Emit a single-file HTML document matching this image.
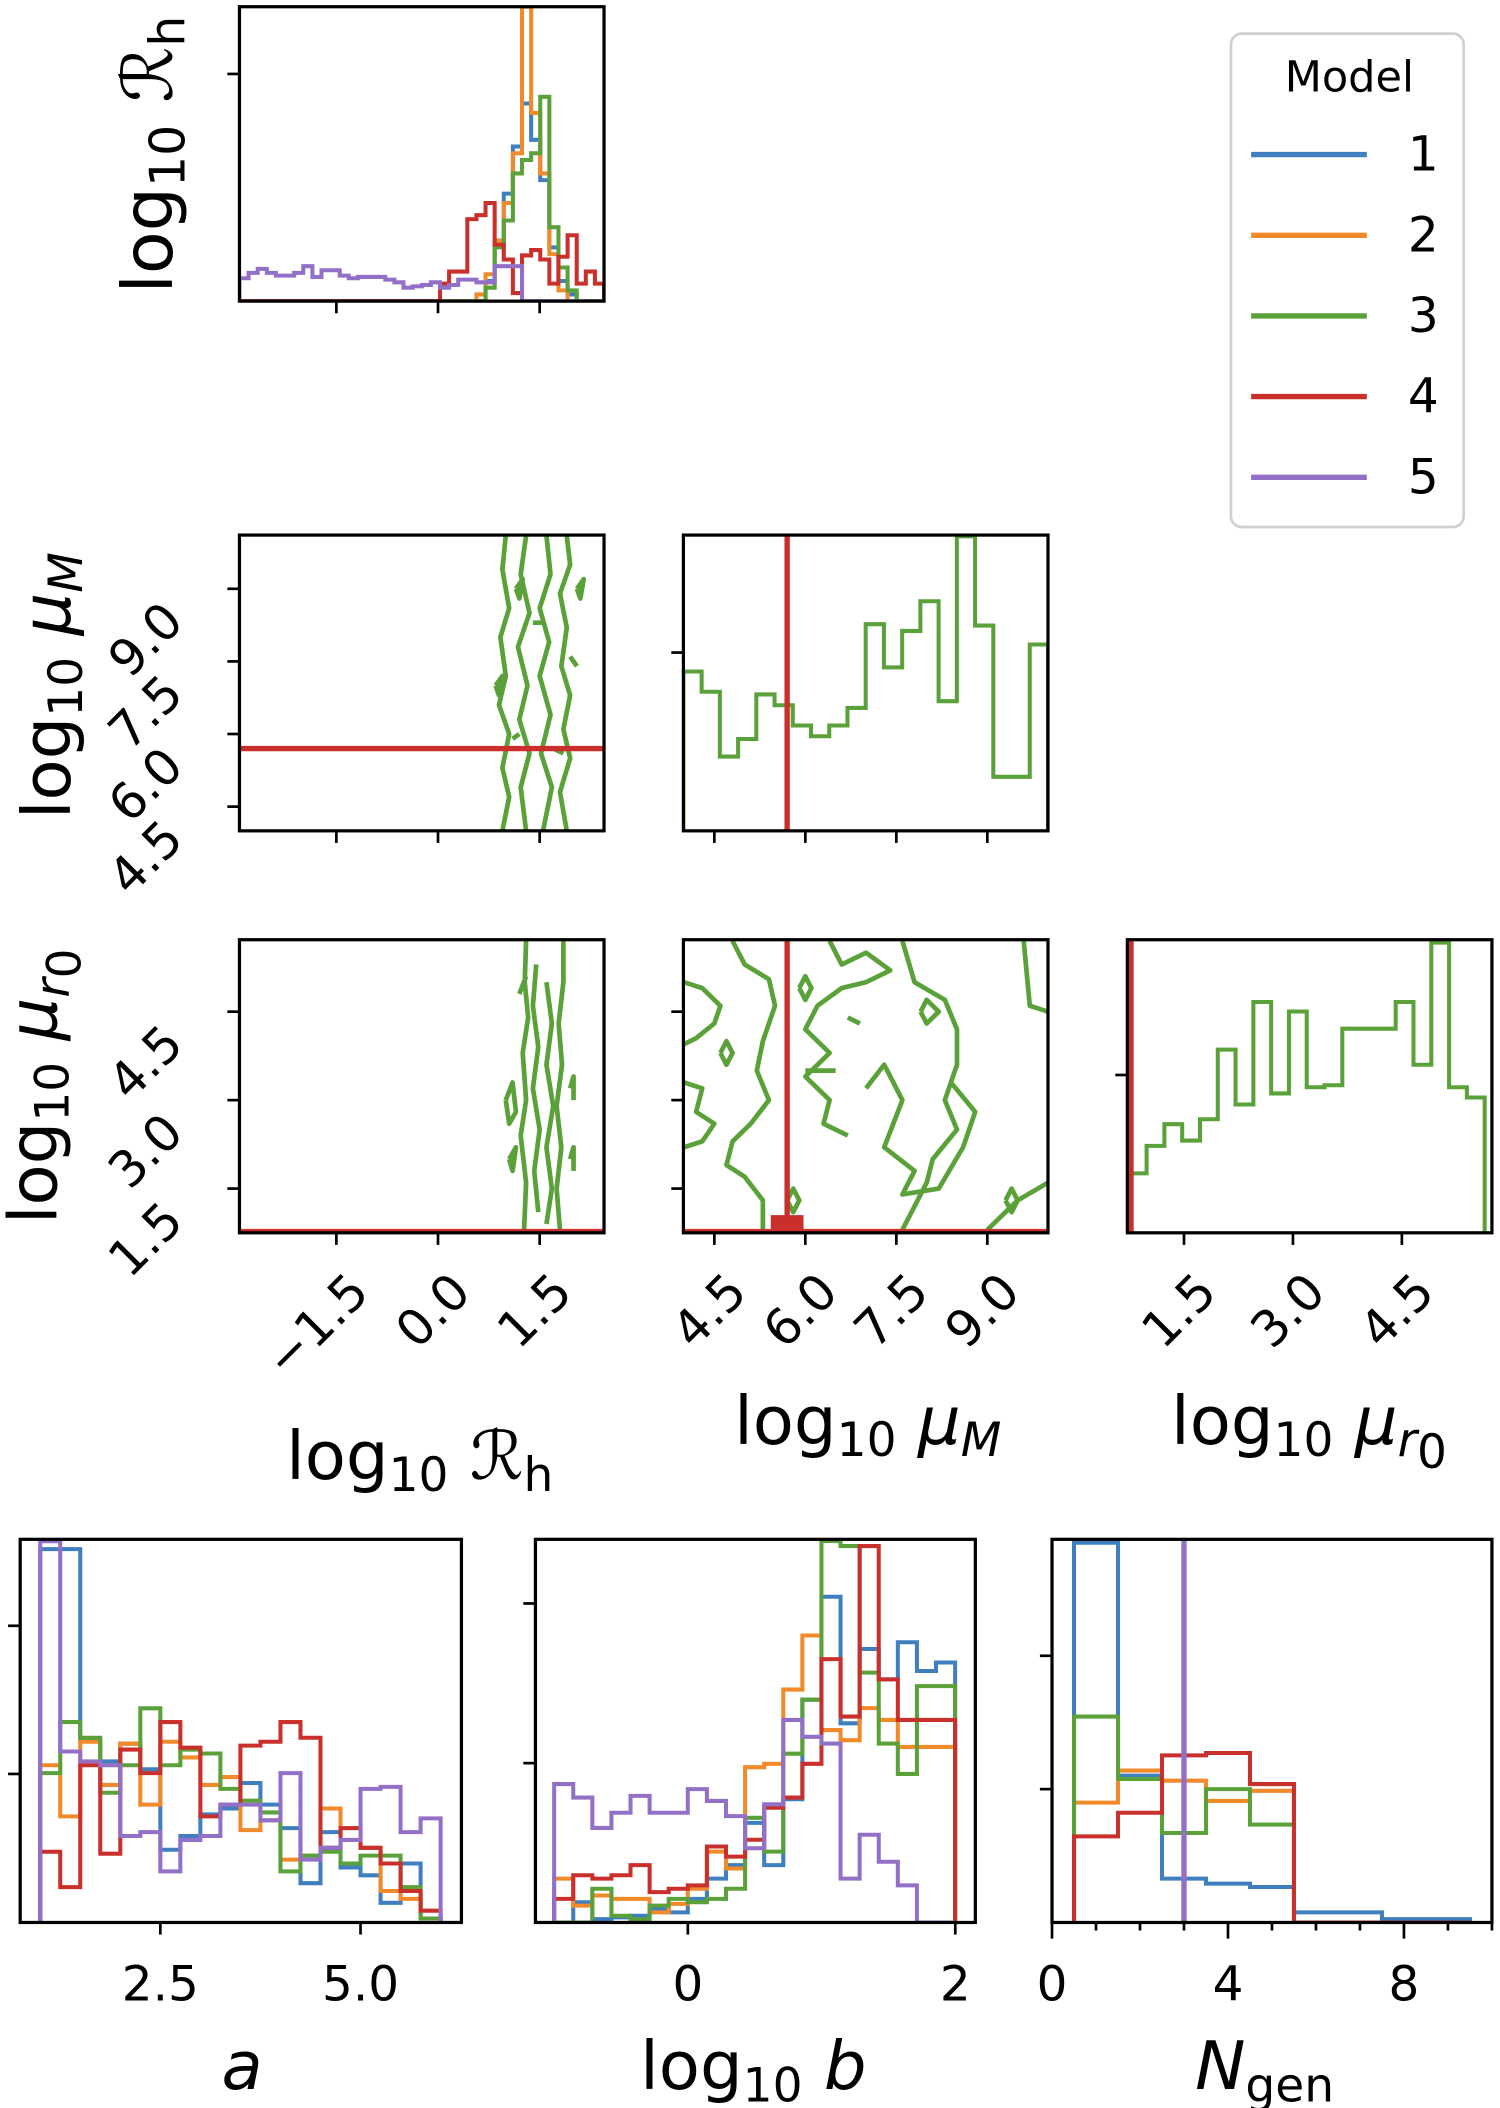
<!DOCTYPE html>
<html><head><meta charset="utf-8"><style>
html,body{margin:0;padding:0;background:#fff}
svg{display:block}
text{font-family:"DejaVu Sans","Liberation Sans",sans-serif;fill:#000}
</style></head><body>
<svg id="fig" width="1500" height="2108" viewBox="0 0 1115 1568" preserveAspectRatio="none" xmlns="http://www.w3.org/2000/svg"></svg>
<script>
const colors=["#3f7fc0","#f28a2a","#5aa13a","#c9302c","#9370c8"];
const modelLabels=["1","2","3","4","5"];
// Row1: log10 Rh histograms (40 bins from -2.93 width 0.1345)
const rhBlue=[0,0,0,0,0,0,0,0,0,0,0,0,0,0,0,0,0,0,0,0,0,0,0,0,0,0,0,15,45,80,115,147,120,90,40,15,5,0,0,0];
const rhOrange=[0,0,0,0,0,0,0,0,0,0,0,0,0,0,0,0,0,0,0,0,0,0,0,0,0,0,5,20,45,73,110,219,140,95,35,8,0,0,0,0];
const rhGreen=[0,0,0,0,0,0,0,0,0,0,0,0,0,0,0,0,0,0,0,0,0,0,0,0,0,0,0,10,40,60,95,105,110,152,55,25,8,0,0,0];
const rhRed=[0,0,0,0,0,0,0,0,0,0,0,0,0,0,0,0,0,0,0,0,0,0,13,22,22,61,64,73,42,31,6,34,38,31,13,33,49,13,22,13];
const rhPurple=[17,21,24,21,19,19,21,26,18,23,23,19,17,18,18,18,16,14,10,11,12,14,10,12,16,16,14,14,26,26,26,0,0,0,0,0,0,0,0,0];
// Row2: log10 muM histogram (model 3)
const muMGreen=[118,103,55,68,101,93,78,70,78,91,153,121,148,170,96,218,152,40,40,138];
const muMTrue=5.7;
// Row3: log10 mu_r0 histogram (model 3)
const mur0Green=[145,212,265,225,277,447,313,563,340,540,355,360,498,498,498,563,410,708,355,330];
const mur0True=0.77;
// Row4: a histograms
const aBlue=[950,950,465,410,455,390,185,220,275,290,355,300,240,100,230,140,120,50,150,10];
const aOrange=[400,270,460,350,455,300,460,420,350,370,235,260,160,170,290,240,190,80,60,10];
const aGreen=[380,510,470,330,400,545,400,440,430,340,310,280,130,170,180,150,170,170,90,10];
const aRed=[180,90,400,175,440,380,510,445,270,300,450,460,510,470,190,240,190,150,80,30];
const aPurple=[970,435,410,400,220,230,130,210,220,300,300,260,380,160,190,210,340,345,230,265];
// log10 b histograms
const bBlue=[0,60,10,15,20,40,30,70,130,170,295,170,365,660,965,590,810,720,830,745,770];
const bOrange=[130,50,80,70,70,30,55,100,210,160,460,470,690,850,570,540,635,600,520,520,520];
const bGreen=[0,0,100,20,10,50,70,60,70,100,310,210,500,660,1130,1115,740,530,440,700,700];
const bRed=[70,140,130,140,170,90,100,110,225,195,245,340,370,470,780,610,1115,720,600,600,600];
const bPurple=[410,370,280,325,375,325,325,395,360,315,220,350,600,550,530,130,260,180,110,0,0];
// N_gen histograms
const nBlue=[1125,435,130,115,105,30,30,10,10];
const nOrange=[355,450,420,360,390,0,0,0,0];
const nGreen=[610,425,265,395,290,0,0,0,0];
const nRed=[255,325,495,502,410,0,0,0,0];
const nTrue=3;
// contour polylines (data units)
const contRhMu=[
 [[1.0,10.1],[0.95,9.4],[1.05,8.6],[0.92,8.0],[1.0,7.2],[0.9,6.6],[1.05,6.0],[0.95,5.3],[1.05,4.7],[0.95,4.0]],
 [[1.9,10.1],[1.95,9.5],[1.8,8.9],[1.9,8.2],[1.82,7.4],[1.95,6.8],[1.85,6.1],[1.95,5.5],[1.8,4.8],[1.9,4.0]],
 [[1.3,10.1],[1.22,9.3],[1.35,8.5],[1.18,7.8],[1.32,7.0],[1.2,6.3],[1.35,5.6],[1.22,4.9],[1.3,4.0]],
 [[1.6,10.1],[1.66,9.3],[1.5,8.6],[1.64,7.9],[1.5,7.2],[1.66,6.4],[1.52,5.6],[1.68,4.9],[1.55,4.0]],
 [[1.15,9.0],[1.25,9.2],[1.2,8.8],[1.15,9.0]],[[1.4,8.3],[1.55,8.3]],[[2.05,9.0],[2.15,9.2],[2.1,8.8],[2.05,9.0]],
 [[0.85,7.0],[0.95,7.2],[0.9,6.8],[0.85,7.0]],[[1.95,7.6],[2.05,7.4]],[[1.1,5.9],[1.2,6.0]],[[1.7,5.7],[1.85,5.6]]
];
const contRhR0=[
 [[1.3,5.7],[1.28,5.0],[1.33,4.4],[1.25,3.8],[1.3,3.0],[1.22,2.4],[1.3,1.6],[1.27,0.8]],
 [[1.85,5.7],[1.85,5.0],[1.78,4.3],[1.83,3.6],[1.75,2.9],[1.82,2.2],[1.75,1.5],[1.8,0.8]],
 [[1.45,5.3],[1.4,4.6],[1.48,3.9],[1.4,3.2],[1.5,2.5],[1.42,1.8],[1.48,1.1]],
 [[1.6,5.0],[1.68,4.3],[1.6,3.6],[1.7,2.9],[1.6,2.2],[1.68,1.5],[1.6,0.9]],
 [[1.0,3.0],[1.1,3.3],[1.15,2.8],[1.05,2.6],[1.0,3.0]],[[1.05,2.0],[1.15,2.2],[1.1,1.8],[1.05,2.0]],
 [[1.95,3.2],[2.0,3.4],[2.0,3.0]],[[1.95,2.0],[2.0,2.2],[2.0,1.8]],[[1.2,4.8],[1.3,5.1]]
];
const contMuR0=[
 [[4.0,5.0],[4.3,4.9],[4.6,4.6],[4.5,4.3],[4.2,4.05],[4.0,3.95]],
 [[4.0,3.3],[4.3,3.2],[4.2,2.8],[4.5,2.6],[4.3,2.3],[4.0,2.2]],
 [[4.8,5.7],[5.0,5.3],[5.4,5.05],[5.5,4.6],[5.3,4.0],[5.2,3.5],[5.4,3.0],[5.1,2.6],[4.8,2.3],[4.7,1.9],[5.0,1.7],[5.3,1.3],[5.3,0.8]],
 [[6.4,5.7],[6.6,5.3],[7.0,5.5],[7.4,5.2],[7.0,5.0],[6.6,4.9],[6.2,4.6],[6.0,4.2],[6.4,3.8],[6.0,3.4],[6.4,3.0],[6.3,2.6],[6.7,2.4]],
 [[7.6,5.7],[7.8,5.0],[8.3,4.7],[8.5,4.2],[8.5,3.6],[8.3,3.0],[8.5,2.5],[8.1,2.0],[8.0,1.6],[7.8,1.2],[7.6,0.8]],
 [[9.6,5.7],[9.7,4.6],[10.0,4.5]],[[9.0,0.8],[9.5,1.3],[10.0,1.6]],
 [[7.0,3.2],[7.3,3.6],[7.6,3.0],[7.3,2.2],[7.8,1.8],[7.6,1.4],[8.2,1.5],[8.6,2.2],[8.8,2.8],[8.4,3.3]],
 [[4.6,3.8],[4.7,4.0],[4.8,3.8],[4.7,3.6],[4.6,3.8]],[[5.9,4.9],[6.0,5.1],[6.1,4.9],[6.0,4.7],[5.9,4.9]],
 [[6.7,4.4],[6.9,4.3]],[[7.9,4.5],[8.0,4.7],[8.2,4.5],[8.0,4.3],[7.9,4.5]],[[5.7,1.3],[5.8,1.5],[5.9,1.3],[5.8,1.1],[5.7,1.3]],
 [[9.3,1.3],[9.4,1.5],[9.5,1.3],[9.4,1.1],[9.3,1.3]],[[6.0,3.5],[6.5,3.5]]
];

const NS="http://www.w3.org/2000/svg";
const svg=document.getElementById('fig');
function mk(tag,attrs,parent){const e=document.createElementNS(NS,tag);for(const k in attrs)e.setAttribute(k,attrs[k]);(parent||svg).appendChild(e);return e;}
function lin(d0,d1,r0,r1){return v=>r0+(v-d0)*(r1-r0)/(d1-d0);}
function panel(name,x0,y0,x1,y1,xd,yd){
  const g=mk('g',{});
  
  
  const cid='c'+name;
  const cp=mk('clipPath',{id:cid},g);mk('rect',{x:x0,y:y0,width:x1-x0,height:y1-y0},cp);
  const inner=mk('g',{'clip-path':'url(#'+cid+')'},g);
  const fr=mk('rect',{x:x0,y:y0,width:x1-x0,height:y1-y0,fill:'none',stroke:'#000','stroke-width':2.4},g);
  
  
  return {g,inner,x0,y0,x1,y1,X:lin(xd[0],xd[1],x0,x1),Y:lin(yd[0],yd[1],y1,y0)};
}
function hist(p,lo,w,vals,color,name){
  let d='M'+p.X(lo)+','+p.Y(0);
  vals.forEach((v,i)=>{d+=' V'+p.Y(v)+' H'+p.X(lo+w*(i+1));});
  d+=' V'+p.Y(0);
  const e=mk('path',{d,fill:'none',stroke:color,'stroke-width':3},p.inner);
  
  
}
function poly(p,pts,color,name,w){
  const e=mk('polyline',{points:pts.map(q=>p.X(q[0])+','+p.Y(q[1])).join(' '),fill:'none',stroke:color,'stroke-width':w||3.5,'stroke-linejoin':'round'},p.inner);
  
  
}
function xticks(p,vals,labels,rot,fs,len){
  len=len||9;
  vals.forEach((v,i)=>{
    const x=p.X(v);
    const t=mk('line',{x1:x,x2:x,y1:p.y1,y2:p.y1+len,stroke:'#000','stroke-width':2},p.g);
    
    
    if(labels&&labels[i]!=null){
      let tx;
      if(rot){const ax=x+26,ay=p.y1+46;tx=mk('text',{x:ax,y:ay,'font-size':fs||37,'text-anchor':'end',transform:'rotate(-45 '+ax+' '+ay+')'},p.g);}
      else{tx=mk('text',{x:x,y:p.y1+58,'font-size':fs||36,'text-anchor':'middle'},p.g);}
      tx.textContent=labels[i];
      
      
    }
  });
}
function yticks(p,vals,labels){
  vals.forEach((v,i)=>{
    const y=p.Y(v);
    const t=mk('line',{x1:p.x0-9,x2:p.x0,y1:y,y2:y,stroke:'#000','stroke-width':2},p.g);
    
    
    if(labels){
      const ax=p.x0-40, ay=y+26;
      const tx=mk('text',{x:ax,y:ay,'font-size':37,'text-anchor':'end',transform:'rotate(-45 '+ax+' '+ay+')'},p.g);
      tx.textContent=labels[i];
      
      
    }
  });
}
function title(name,x,y,parts,rot,fs){
  const t=mk('text',{x,y,'font-size':fs||44,'text-anchor':'middle'});
  if(rot)t.setAttribute('transform','rotate(-90 '+x+' '+y+')');
  parts.forEach(pt=>{const s=mk('tspan',{},t);s.textContent=pt[0];
    if(pt[1]==='sub'){s.setAttribute('font-size',(fs||44)*0.7);s.setAttribute('dy',9);}
    else if(pt[1]==='up'){s.setAttribute('dy',-9);}
    if(pt[2])s.setAttribute('font-style','italic');});
  
  
}
const rhX=[-2.93,2.45], muX=[3.99,10.0], r0X=[0.72,5.74], muY=[4.0,10.11], r0Y=[0.75,5.72];
// Row 1
const p1=panel('hist-log-rh',178,5,449,224,rhX,[0,219]);
[rhBlue,rhOrange,rhGreen,rhRed,rhPurple].forEach((s,i)=>hist(p1,-2.93,0.1345,s,colors[i],'rh-hist-model-'+(i+1)));
xticks(p1,[-1.5,0,1.5]);yticks(p1,[169]);
// Row 2
const p21=panel('contour-rh-mum',178,398,449,618,rhX,muY);
contRhMu.forEach((c,i)=>poly(p21,c,colors[2],'contour-rh-mum-'+i));
poly(p21,[[rhX[0],muMTrue],[rhX[1],muMTrue]],colors[3],'true-mum-line',4);
xticks(p21,[-1.5,0,1.5]);yticks(p21,[4.5,6.0,7.5,9.0],['4.5','6.0','7.5','9.0']);
const p22=panel('hist-log-mum',508,398,779,618,muX,[0,219]);
hist(p22,3.99,0.3005,muMGreen,colors[2],'mum-hist-model-3');
poly(p22,[[muMTrue,0],[muMTrue,219]],colors[3],'true-mum-vline',4);
xticks(p22,[4.5,6,7.5,9]);yticks(p22,[132]);
// Row 3
const p31=panel('contour-rh-mur0',178,699,449,917,rhX,r0Y);
contRhR0.forEach((c,i)=>poly(p31,c,colors[2],'contour-rh-mur0-'+i));
poly(p31,[[rhX[0],mur0True],[rhX[1],mur0True]],colors[3],'true-mur0-line',4);
xticks(p31,[-1.5,0,1.5],['\u22121.5','0.0','1.5'],true);yticks(p31,[1.5,3.0,4.5],['1.5','3.0','4.5']);
const p32=panel('contour-mum-mur0',508,699,779,917,muX,r0Y);
contMuR0.forEach((c,i)=>poly(p32,c,colors[2],'contour-mum-mur0-'+i));
poly(p32,[[muMTrue,0],[muMTrue,6]],colors[3],'true-mum-vline-2',4);
const sq=mk('rect',{x:p32.X(muMTrue-0.27),y:p32.Y(mur0True+0.28),width:p32.X(muMTrue+0.27)-p32.X(muMTrue-0.27),height:p32.Y(mur0True)-p32.Y(mur0True+0.28)+3,fill:colors[3]},p32.inner);


poly(p32,[[muX[0],mur0True],[muX[1],mur0True]],colors[3],'true-mur0-line-2',4);
xticks(p32,[4.5,6,7.5,9],['4.5','6.0','7.5','9.0'],true);yticks(p32,[1.5,3,4.5]);
const p33=panel('hist-log-mur0',838,699,1109,917,r0X,[0,715]);
hist(p33,0.74,0.245,mur0Green,colors[2],'mur0-hist-model-3');
poly(p33,[[mur0True,0],[mur0True,715]],colors[3],'true-mur0-vline',4);
xticks(p33,[1.5,3,4.5],['1.5','3.0','4.5'],true);yticks(p33,[385]);
// Row 4
const p41=panel('hist-a',15,1145,343,1430,[0.75,6.26],[0,975]);
[aBlue,aOrange,aGreen,aRed,aPurple].forEach((s,i)=>hist(p41,1.0,0.25,s,colors[i],'a-hist-model-'+(i+1)));
xticks(p41,[2.5,5.0],['2.5','5.0'],false);yticks(p41,[378,755]);
const p42=panel('hist-log-b',398,1145,725,1430,[-1.14,2.15],[0,1135]);
[bBlue,bOrange,bGreen,bRed,bPurple].forEach((s,i)=>hist(p42,-1.0,0.1428,s,colors[i],'b-hist-model-'+(i+1)));
xticks(p42,[0,2],['0','2'],false);yticks(p42,[472,945]);
const p43=panel('hist-ngen',782,1145,1109,1430,[0,10],[0,1135]);
[nBlue,nOrange,nGreen,nRed].forEach((s,i)=>hist(p43,0.5,1,s,colors[i],'ngen-hist-model-'+(i+1)));
poly(p43,[[nTrue,0],[nTrue,1135]],colors[4],'ngen-model-5-line',4);
xticks(p43,[1,2,3,5,6,7,9,10],null,false,36,6);xticks(p43,[0,4,8],['0','4','8'],false,36,12);yticks(p43,[395,790]);
// axis titles
title('y-title-log-rh',128,115,[['log'],['10','sub'],[' \u211B','up'],['h','sub']],true,52);
title('y-title-log-mum',52,510,[['log'],['10','sub'],[' \u03BC','up',true],['M','sub',true]],true,50);
title('y-title-log-mur0',42,808,[['log'],['10','sub'],[' \u03BC','up',true],['r','sub',true],['0','sub']],true,50);
title('x-title-log-rh',312,1100,[['log'],['10','sub'],[' \u211B','up'],['h','sub']],false,50);
title('x-title-log-mum',645,1074,[['log'],['10','sub'],[' \u03BC','up',true],['M','sub',true]],false,50);
title('x-title-log-mur0',973,1074,[['log'],['10','sub'],[' \u03BC','up',true],['r','sub',true],['0','sub']],false,50);
title('x-title-a',180,1554,[['a','',true]],false,50);
title('x-title-log-b',560,1554,[['log'],['10','sub'],[' b','up',true]],false,50);
title('x-title-ngen',940,1554,[['N','',true],['gen','sub']],false,50);
// legend
const lg=mk('g',{});


mk('rect',{x:915,y:25,width:173,height:367,rx:8,fill:'#fff',stroke:'#d0d0d0','stroke-width':2},lg);
const lt=mk('text',{x:1003,y:68,'font-size':32,'text-anchor':'middle'},lg);lt.textContent='Model';


modelLabels.forEach((m,i)=>{
  const y=115+60*i;
  const e=mk('g',{},lg);
  
  
  mk('line',{x1:930,x2:1016,y1:y,y2:y,stroke:colors[i],'stroke-width':4},e);
  const t=mk('text',{x:1058,y:y+12,'font-size':36,'text-anchor':'middle'},e);t.textContent=m;
});
</script>
</body></html>
